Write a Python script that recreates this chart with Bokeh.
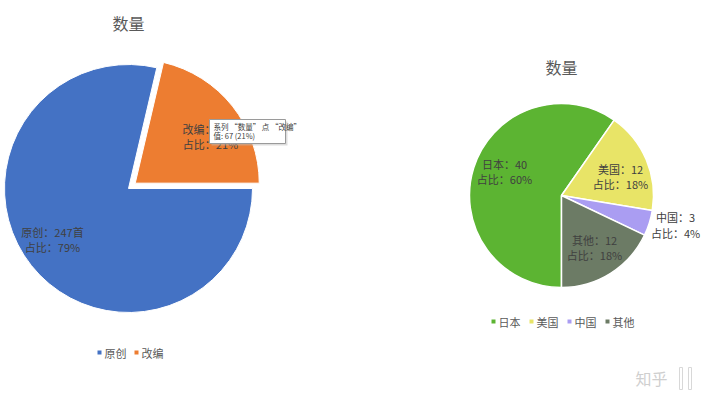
import math
from bokeh.plotting import figure
from bokeh.models import Range1d
from bokeh.core.properties import value
from bokeh.embed import file_html
from bokeh.resources import INLINE

# ---------------- data ----------------
title_text = "数量"
left_cats = ["原创", "改编"]
left_vals = [247, 67]
left_units = ["首", "首"]
left_colors = ["#4472C4", "#ED7D31"]

right_cats = ["日本", "美国", "中国", "其他"]
right_vals = [40, 12, 3, 12]
right_colors = ["#5CB432", "#E8E467", "#AA9DF2", "#6C7B65"]

tooltip_lines = ["系列 “数量” 点 “改编”", "值: 67 (21%)"]
watermark = "知乎"

FONT = value("Noto Sans CJK SC")

# ---------------- figure (1 data unit = 1 px, y = -image y) ----------------
W, H = 704, 396
p = figure(width=W, height=H, x_range=Range1d(0, W), y_range=Range1d(-H, 0),
           output_backend="svg", toolbar_location=None, min_border=0)
p.axis.visible = False
p.grid.visible = False
p.outline_line_color = None
p.background_fill_color = "white"
p.border_fill_color = "white"


def slices(vals, first_deg):
    total = float(sum(vals))
    out = []
    cum = 0.0
    for v in vals:
        a0 = first_deg + cum / total * 360.0
        cum += v
        a1 = first_deg + cum / total * 360.0
        # clockwise-from-top -> math angle
        out.append((math.radians(90 - a0), math.radians(90 - a1),
                    math.radians(90 - (a0 + a1) / 2.0), v / total))
    return out


def txt(x, y, s, size, color="#404040", align="center"):
    p.text(x=[x], y=[-y], text=[s], text_font=FONT, text_font_size=f"{size}px",
           text_color=color, text_align=align, text_baseline="middle")


# ---------------- left pie ----------------
lcx, lcy, lr = 128, 188, 124
ls = slices(left_vals, 90)
explode = [0, 8.6]
for (s, e, m, f), col, ex in zip(ls, left_colors, explode):
    cx = lcx + ex * math.cos(m)
    cy = -lcy + ex * math.sin(m)
    p.wedge(x=[cx], y=[cy], radius=lr, start_angle=s, end_angle=e, direction="clock",
            fill_color=col, line_color="white", line_width=1)

ltot = sum(left_vals)
left_label_pos = [(52, 231, 246), (210, 128, 143)]
for cat, v, u, (lx, y1, y2) in zip(left_cats, left_vals, left_units, left_label_pos):
    txt(lx, y1, f"{cat}：{v}{u}", 11)
    txt(lx, y2, f"占比：{round(v / ltot * 100)}%", 11)

txt(128, 22, title_text, 16, "#595959")

# tooltip box
p.quad(left=[211], right=[287], top=[-121], bottom=[-145], fill_color="#bbbbbb",
       fill_alpha=0.5, line_color=None)
p.quad(left=[209], right=[285], top=[-119], bottom=[-143], fill_color="white",
       line_color="#9a9a9a", line_width=1)
txt(213, 125.5, tooltip_lines[0], 7.5, "#404040", "left")
txt(213, 135, tooltip_lines[1], 7.5, "#404040", "left")

# left legend
for cat, col, x in zip(left_cats, left_colors, [99, 136]):
    p.scatter(x=[x], y=[-352], marker="square", size=4, fill_color=col, line_color=None)
    txt(x + 5, 352, cat, 11, "#595959", "left")

# ---------------- right pie ----------------
rcx, rcy, rr = 561, 195, 92
rs = slices(right_vals, 180)
for (s, e, m, f), col in zip(rs, right_colors):
    p.wedge(x=[rcx], y=[-rcy], radius=rr, start_angle=s, end_angle=e, direction="clock",
            fill_color=col, line_color="white", line_width=1.5)

rtot = sum(right_vals)
right_label_pos = [(504, 163, 178), (620, 168, 183), (675, 216, 232), (594, 239, 254)]
for cat, v, (lx, y1, y2) in zip(right_cats, right_vals, right_label_pos):
    txt(lx, y1, f"{cat}：{v}", 11)
    txt(lx, y2, f"占比：{round(v / rtot * 100)}%", 11)

txt(561, 66, title_text, 16, "#595959")

for cat, col, x in zip(right_cats, right_colors, [493, 531, 569, 607]):
    p.scatter(x=[x], y=[-321], marker="square", size=4, fill_color=col, line_color=None)
    txt(x + 5, 321, cat, 11, "#595959", "left")

# watermark
txt(651, 377, watermark, 16, "#cfcfcf")
p.quad(left=[679, 688], right=[682, 691], top=[-367, -367], bottom=[-389, -389],
       fill_color=None, line_color="#d8d8d8", line_width=1)

open("out.html", "w").write(file_html(p, INLINE))
